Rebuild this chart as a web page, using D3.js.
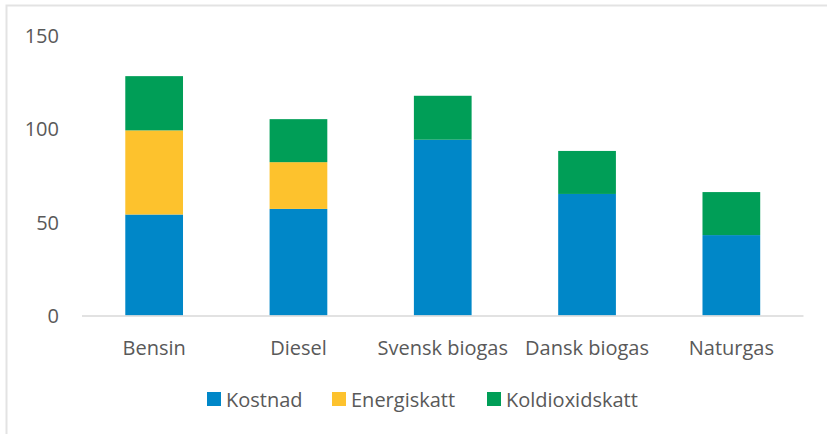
<!DOCTYPE html>
<html>
<head>
<meta charset="utf-8">
<script src="https://cdn.jsdelivr.net/npm/d3@7"></script>
<style>
body { margin: 0; background: #fff; }
text { font-family: "Open Sans", sans-serif; fill: #595959; }
</style>
</head>
<body>
<svg width="827" height="434"></svg>
<script>
var categories = ["Bensin", "Diesel", "Svensk biogas", "Dansk biogas", "Naturgas"];
var seriesNames = ["Kostnad", "Energiskatt", "Koldioxidskatt"];
var kostnad = [54, 57, 94, 65, 43];
var energiskatt = [45, 25, 0, 0, 0];
var koldioxidskatt = [29, 23, 23.5, 23, 23];
var yTicks = [0, 50, 100, 150];
var colors = ["#0087c8", "#fdc22d", "#009e57"];

var svg = d3.select("svg"),
    width = +svg.attr("width"),
    height = +svg.attr("height");

// outer chart border
svg.append("rect")
    .attr("x", 6.5).attr("y", 5.5)
    .attr("width", 840).attr("height", 450)
    .attr("fill", "none")
    .attr("stroke", "#e3e3e3")
    .attr("stroke-width", 2);

var rows = categories.map(function(c, i) {
    return { cat: c, Kostnad: kostnad[i], Energiskatt: energiskatt[i], Koldioxidskatt: koldioxidskatt[i] };
});
var stacked = d3.stack().keys(seriesNames)(rows);

var x = d3.scaleBand()
    .domain(categories)
    .range([82, 803.5])
    .paddingInner(0.6)
    .paddingOuter(0.3);

var y = d3.scaleLinear()
    .domain([0, 150])
    .range([315.5, 35]);

// y tick labels
svg.append("g").selectAll("text")
    .data(yTicks)
    .enter().append("text")
    .attr("x", 59)
    .attr("y", function(d) { return y(d) + 7.5; })
    .attr("text-anchor", "end")
    .style("font-size", "20px")
    .text(function(d) { return d; });

// bars
svg.append("g").selectAll("g")
    .data(stacked)
    .enter().append("g")
    .attr("fill", function(d, i) { return colors[i]; })
    .selectAll("rect")
    .data(function(d) { return d; })
    .enter().append("rect")
    .attr("x", function(d) { return x(d.data.cat); })
    .attr("y", function(d) { return y(d[1]); })
    .attr("width", x.bandwidth())
    .attr("height", function(d) { return y(d[0]) - y(d[1]); });

// x axis line
svg.append("line")
    .attr("x1", 82).attr("x2", 803.5)
    .attr("y1", y(0) + 0.5).attr("y2", y(0) + 0.5)
    .attr("stroke", "#d9d9d9")
    .attr("stroke-width", 1.5);

// category labels
svg.append("g").selectAll("text")
    .data(categories)
    .enter().append("text")
    .attr("x", function(d) { return x(d) + x.bandwidth() / 2; })
    .attr("y", 355)
    .attr("text-anchor", "middle")
    .style("font-size", "20px")
    .text(function(d) { return d; });

// legend
var legendX = [207, 332, 487];
var legend = svg.append("g").selectAll("g")
    .data(seriesNames)
    .enter().append("g")
    .attr("transform", function(d, i) { return "translate(" + legendX[i] + ",392)"; });

legend.append("rect")
    .attr("width", 14).attr("height", 14)
    .attr("fill", function(d, i) { return colors[i]; });

legend.append("text")
    .attr("x", 19)
    .attr("y", 14.7)
    .style("font-size", "20px")
    .text(function(d) { return d; });
</script>
</body>
</html>
